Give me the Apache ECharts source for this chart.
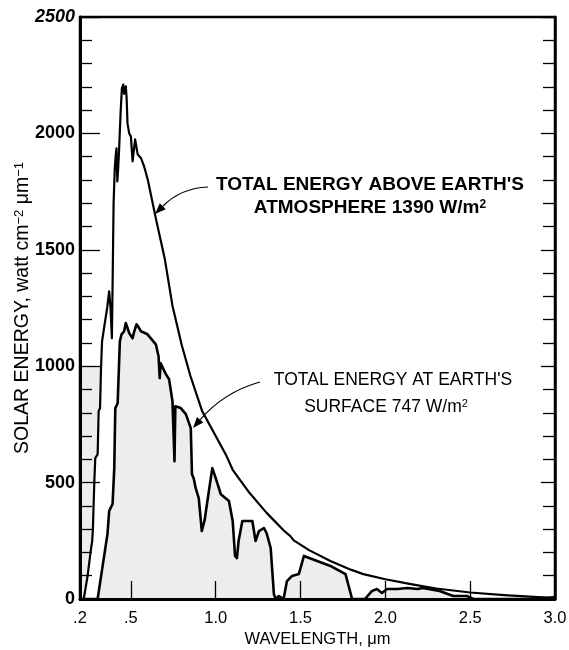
<!DOCTYPE html>
<html><head><meta charset="utf-8">
<script src="https://cdn.jsdelivr.net/npm/echarts@6/dist/echarts.min.js"></script>
<style>html,body{margin:0;padding:0;background:#fff}#c{width:569px;height:650px}</style>
</head><body><div id="c"></div>
<script>
// [wavelength (µm), solar energy]
const aboveAtmosphere = [
  [0.200,0],[0.222,0],[0.245,100],[0.262,200],[0.272,250],[0.276,300],[0.284,494],[0.290,605],
  [0.304,622],[0.310,807],[0.318,820],[0.324,991],[0.330,1107],[0.345,1180],[0.360,1250],[0.372,1322],
  [0.380,1250],[0.388,1120],[0.393,1400],[0.398,1700],[0.405,1850],[0.410,1900],[0.415,1936],[0.420,1794],
  [0.425,1850],[0.430,1923],[0.440,2100],[0.447,2193],[0.455,2210],[0.460,2170],[0.470,2202],[0.475,2150],
  [0.480,2043],[0.490,2000],[0.500,1987],[0.510,1880],[0.525,1974],[0.540,1910],[0.560,1893],[0.578,1858],
  [0.600,1800],[0.647,1635],[0.700,1460],[0.745,1260],[0.800,1090],[0.850,960],[0.920,807],[1.000,700],
  [1.060,620],[1.100,555],[1.200,455],[1.300,370],[1.400,295],[1.440,270],[1.460,252],[1.550,210],
  [1.676,163],[1.800,125],[1.870,107],[2.000,85],[2.150,64],[2.300,45],[2.500,28],[2.700,17],
  [2.900,8],[3.000,5]
];
const atSurface = [
  [0.200,0],[0.304,0],[0.333,140],[0.362,279],[0.372,378],[0.392,408],[0.402,562],[0.408,820],
  [0.422,841],[0.428,966],[0.435,1107],[0.445,1137],[0.460,1150],[0.470,1185],[0.480,1165],[0.490,1142],
  [0.510,1120],[0.520,1150],[0.533,1180],[0.545,1168],[0.559,1150],[0.598,1137],[0.647,1094],[0.663,1043],
  [0.670,949],[0.675,1013],[0.706,966],[0.725,944],[0.745,850],[0.752,850],[0.757,592],[0.762,828],
  [0.794,820],[0.824,794],[0.853,734],[0.860,536],[0.870,519],[0.882,476],[0.900,433],[0.918,292],
  [0.935,340],[0.951,421],[0.980,562],[1.000,519],[1.030,450],[1.078,421],[1.100,335],[1.114,185],
  [1.125,176],[1.135,250],[1.157,335],[1.216,335],[1.235,249],[1.255,292],[1.284,305],[1.300,283],
  [1.324,219],[1.343,21],[1.353,0],[1.372,13],[1.400,0],[1.420,77],[1.450,99],[1.490,107],
  [1.520,185],[1.598,163],[1.676,142],[1.765,107],[1.804,0],[1.880,0],[1.920,34],[1.950,43],
  [1.980,26],[2.010,43],[2.070,43],[2.130,47],[2.190,43],[2.220,47],[2.320,34],[2.400,13],
  [2.480,13],[2.520,0],[2.920,0],[3.000,8]
];
// shaded patch at lower left of the plot: [x0, y0, x1, y1]
const lowerLeftPatch = [0.2, 0, 0.33, 1000];

const xTickValues = [0.2, 0.5, 1.0, 1.5, 2.0, 2.5, 3.0];
const xTickLabels = ['.2', '.5', '1.0', '1.5', '2.0', '2.5', '3.0'];
const xInnerTicks = [0.5, 1.0, 1.5, 2.0, 2.5];
const yMin = 0, yMax = 2500, yStep = 500;

const xTitle = 'WAVELENGTH, \u03bcm';
const yTitle = 'SOLAR ENERGY, watt cm{sup|\u22122} \u03bcm{sup|\u22121}';
const noteAbove = ["TOTAL ENERGY ABOVE EARTH'S", 'ATMOSPHERE 1390 W/m{sup|2}'];
const noteSurface = ["TOTAL ENERGY AT EARTH'S", 'SURFACE 747 W/m{sup|2}'];

const FONT = 'Liberation Sans, Arial, Helvetica, sans-serif';
const GRAY = '#ededed';

const chart = echarts.init(document.getElementById('c'), null, {renderer: 'canvas'});

chart.setOption({
  backgroundColor: '#fff',
  animation: false,
  grid: {left: 80, right: 14, top: 17, bottom: 51, outerBoundsMode: 'none', containLabel: false,
         show: true, borderColor: '#000', borderWidth: 2.5, backgroundColor: 'transparent'},
  xAxis: {
    type: 'value', min: 0.2, max: 3.0, z: 10,
    axisLine: {show: true, onZero: false, lineStyle: {color: '#000', width: 3}},
    axisTick: {show: true, inside: true, length: 18, customValues: xInnerTicks, lineStyle: {color: '#000', width: 1.3}},
    axisLabel: {
      customValues: xTickValues,
      formatter: v => { const i = xTickValues.findIndex(t => Math.abs(t - v) < 1e-9); return i >= 0 ? xTickLabels[i] : ''; },
      margin: 11, fontSize: 16.5, color: '#000', fontFamily: FONT
    },
    splitLine: {show: false},
    name: xTitle, nameLocation: 'middle', nameGap: 32, nameMoveOverlap: false,
    nameTextStyle: {fontSize: 16.5, color: '#000', fontFamily: FONT}
  },
  yAxis: [{
    type: 'value', min: yMin, max: yMax, interval: yStep, position: 'left', z: 10,
    axisLine: {show: true, lineStyle: {color: '#000', width: 3}},
    axisTick: {show: true, inside: true, length: 20, lineStyle: {color: '#000', width: 1.3}},
    minorTick: {show: true, splitNumber: 5, length: 12, lineStyle: {color: '#000', width: 1.3}},
    axisLabel: {
      formatter: v => v === yMax ? '{it|' + v + '}' : String(v),
      rich: {it: {fontStyle: 'italic', fontWeight: 'bold', fontSize: 18, color: '#000', fontFamily: FONT}},
      margin: 5, fontSize: 18, fontWeight: 'bold', color: '#000', fontFamily: FONT
    },
    splitLine: {show: false},
    name: yTitle, nameLocation: 'middle', nameGap: 47, nameRotate: 90, nameMoveOverlap: false,
    nameTextStyle: {
      fontSize: 19.5, color: '#000', fontFamily: FONT,
      rich: {sup: {fontSize: 13, verticalAlign: 'top', color: '#000', fontFamily: FONT}}
    }
  }, {
    type: 'value', min: yMin, max: yMax, interval: yStep, position: 'right', z: 10,
    axisLine: {show: true, lineStyle: {color: '#000', width: 2.5}},
    axisTick: {show: true, inside: true, length: 14, lineStyle: {color: '#000', width: 1.3}},
    minorTick: {show: true, splitNumber: 5, length: 12, lineStyle: {color: '#000', width: 1.3}},
    axisLabel: {show: false},
    splitLine: {show: false}
  }],
  series: [{
    type: 'line', data: aboveAtmosphere, z: 1, symbol: 'none', silent: true,
    lineStyle: {width: 0, opacity: 0},
    markArea: {
      silent: true, itemStyle: {color: GRAY},
      data: [[{coord: [lowerLeftPatch[0], lowerLeftPatch[1]]}, {coord: [lowerLeftPatch[2], lowerLeftPatch[3]]}]]
    }
  }, {
    type: 'line', data: aboveAtmosphere, z: 2, symbol: 'none', silent: true,
    lineStyle: {color: '#000', width: 2.2, join: 'round'},
    areaStyle: {color: '#fff', opacity: 1}
  }, {
    type: 'line', data: atSurface, z: 3, symbol: 'none', silent: true,
    lineStyle: {color: '#000', width: 2.6, join: 'round'},
    areaStyle: {color: GRAY, opacity: 1}
  }]
});

function arrow(tail, ctrl, tip) {
  const dx = tip[0] - ctrl[0], dy = tip[1] - ctrl[1];
  const L = Math.hypot(dx, dy), ux = dx / L, uy = dy / L;
  const hl = 11, hw = 4.2;
  const bx = tip[0] - ux * hl, by = tip[1] - uy * hl;
  return [{
    type: 'bezierCurve', z: 20,
    shape: {x1: tail[0], y1: tail[1], cpx1: ctrl[0], cpy1: ctrl[1], x2: bx, y2: by},
    style: {stroke: '#000', lineWidth: 1.2, fill: null}
  }, {
    type: 'polygon', z: 20,
    shape: {points: [[tip[0], tip[1]], [bx - uy * hw, by + ux * hw], [bx + uy * hw, by - ux * hw]]},
    style: {fill: '#000'}
  }];
}
function textLine(str, x, y, bold, size) {
  return {
    type: 'text', z: 20, x: x, y: y,
    style: {
      text: str, fill: '#000', fontFamily: FONT, fontSize: size, fontWeight: bold ? 'bold' : 'normal',
      textAlign: 'center', textVerticalAlign: 'middle', align: 'center', verticalAlign: 'middle',
      rich: {sup: {fontSize: Math.round(size * 0.65), verticalAlign: 'top', fontWeight: bold ? 'bold' : 'normal', fontFamily: FONT, fill: '#000'}}
    }
  };
}

chart.setOption({
  graphic: [].concat(
    textLine(noteAbove[0], 370, 185, true, 19),
    textLine(noteAbove[1], 370, 208, true, 19),
    textLine(noteSurface[0], 393, 380, false, 17.5),
    textLine(noteSurface[1], 386, 407, false, 17.5),
    arrow([208, 187], [181, 188], [155, 214]),
    arrow([260, 382], [224, 392], [193, 428])
  )
});
</script></body></html>
